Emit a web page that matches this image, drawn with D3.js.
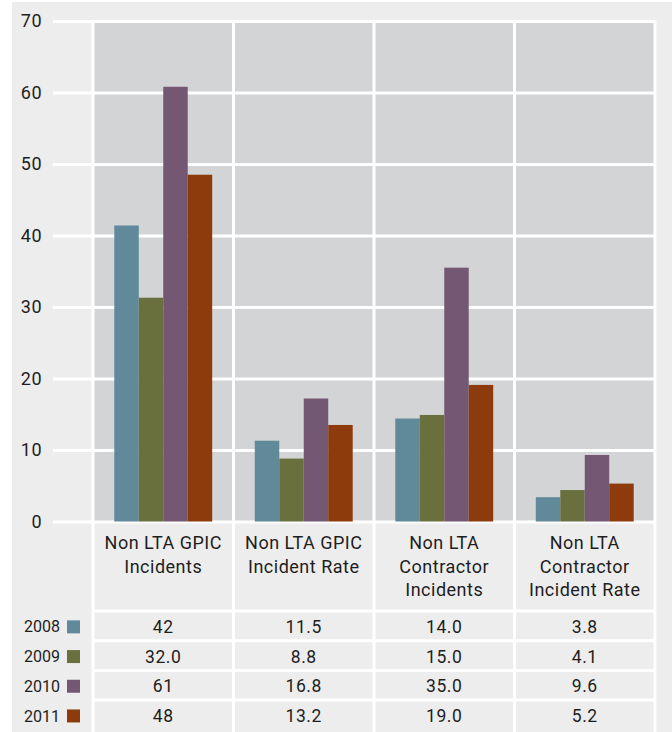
<!DOCTYPE html>
<html>
<head>
<meta charset="utf-8">
<script src="https://cdn.jsdelivr.net/npm/d3@7"></script>
<style>
  body { margin: 0; background: #fff; }
  text { font-family: Roboto, "DejaVu Sans", sans-serif; fill: #1e1e1e; }
</style>
</head>
<body>
<svg id="svg" width="672" height="732"></svg>
<script>
// categories and years
const categories = [
  ['Non LTA GPIC', 'Incidents'],
  ['Non LTA GPIC', 'Incident Rate'],
  ['Non LTA', 'Contractor', 'Incidents'],
  ['Non LTA', 'Contractor', 'Incident Rate']
]
const years = ['2008', '2009', '2010', '2011']
const yearColors = ['#60899a', '#69703e', '#745773', '#8d3a0c']

// bar heights as drawn (one array per year, one value per category)
const bars2008 = [41.4, 11.3, 14.4, 3.4]
const bars2009 = [31.3, 8.8, 14.9, 4.4]
const bars2010 = [60.8, 17.2, 35.5, 9.3]
const bars2011 = [48.5, 13.5, 19.1, 5.3]

// values printed in the table
const table2008 = ['42', '11.5', '14.0', '3.8']
const table2009 = ['32.0', '8.8', '15.0', '4.1']
const table2010 = ['61', '16.8', '35.0', '9.6']
const table2011 = ['48', '13.2', '19.0', '5.2']

const yTicks = [0, 10, 20, 30, 40, 50, 60, 70]

const barRows = [bars2008, bars2009, bars2010, bars2011]
const tableRows = [table2008, table2009, table2010, table2011]

const svg = d3.select('#svg')
const plotLeft = 93, plotRight = 655, plotTop = 21, plotBottom = 521.5

// background
svg.append('rect').attr('x', 12).attr('y', 2).attr('width', 660).attr('height', 730).attr('fill', '#ededed')
svg.append('rect').attr('x', plotLeft).attr('y', plotTop).attr('width', plotRight - plotLeft).attr('height', plotBottom - plotTop).attr('fill', '#d3d4d6')

const x = d3.scaleBand().domain(d3.range(categories.length)).range([plotLeft, plotRight])
const xSub = d3.scaleBand().domain(years).range([0, x.bandwidth()]).paddingOuter(0.87)
const y = d3.scaleLinear().domain([0, 70]).range([plotBottom, plotTop])

// bars
const groups = svg.selectAll('.group')
  .data(categories)
  .enter()
  .append('g')
  .attr('transform', (d, i) => `translate(${x(i)},0)`)

groups.selectAll('rect')
  .data((d, i) => years.map((yr, j) => ({ yr, v: barRows[j][i], c: yearColors[j] })))
  .enter()
  .append('rect')
  .attr('x', d => xSub(d.yr))
  .attr('width', xSub.bandwidth())
  .attr('y', d => y(d.v))
  .attr('height', d => y(0) - y(d.v))
  .attr('fill', d => d.c)

// gridlines + y labels
const yAxis = svg.append('g')
  .attr('transform', `translate(${plotRight},0)`)
  .call(d3.axisLeft(y).tickValues(yTicks).tickSize(plotRight - 53).tickPadding(11))
yAxis.select('.domain').remove()
yAxis.selectAll('line').attr('stroke', '#fff').attr('stroke-width', 3)
yAxis.selectAll('text')
  .style('font-size', '18px')
  .style('letter-spacing', '0.5px')
  .attr('fill', '#1e1e1e')
  .attr('font-family', 'Roboto')

// bars sit above gridlines
groups.raise()

// vertical separators from plot top to bottom of table
const seps = d3.range(categories.length + 1).map(i => i < categories.length ? x(i) : plotRight)
svg.selectAll('.sep')
  .data(seps)
  .enter()
  .append('line')
  .attr('x1', d => d).attr('x2', d => d)
  .attr('y1', plotTop).attr('y2', 732)
  .attr('stroke', '#fff').attr('stroke-width', 3)

// category labels
svg.selectAll('.cat')
  .data(categories)
  .enter()
  .append('text')
  .attr('text-anchor', 'middle')
  .style('font-size', '18px')
  .style('letter-spacing', '0.5px')
  .attr('transform', (d, i) => `translate(${x(i) + x.bandwidth() / 2},549)`)
  .selectAll('tspan')
  .data(d => d)
  .enter()
  .append('tspan')
  .attr('x', 0)
  .attr('y', (d, i) => i * 23.5)
  .text(d => d)

// table rows
const rowTop = 611, rowH = 29.7
svg.selectAll('.rowline')
  .data(years)
  .enter()
  .append('line')
  .attr('x1', plotLeft).attr('x2', plotRight)
  .attr('y1', (d, i) => rowTop + i * rowH).attr('y2', (d, i) => rowTop + i * rowH)
  .attr('stroke', '#fff').attr('stroke-width', 3)

const rows = svg.selectAll('.row')
  .data(years)
  .enter()
  .append('g')
  .attr('transform', (d, i) => `translate(0,${rowTop + i * rowH + rowH / 2 + 1})`)

rows.append('text')
  .attr('x', 60)
  .attr('dy', '0.35em')
  .attr('text-anchor', 'end')
  .style('font-size', '16px')
  .text(d => d)

rows.append('rect')
  .attr('x', 67).attr('y', -6.5)
  .attr('width', 13).attr('height', 13)
  .attr('fill', (d, i) => yearColors[i])

rows.selectAll('.val')
  .data((d, i) => tableRows[i])
  .enter()
  .append('text')
  .attr('x', (d, i) => x(i) + x.bandwidth() / 2)
  .attr('dy', '0.35em')
  .attr('text-anchor', 'middle')
  .style('font-size', '17.5px')
  .style('letter-spacing', '0.6px')
  .text(d => d)
</script>
</body>
</html>
